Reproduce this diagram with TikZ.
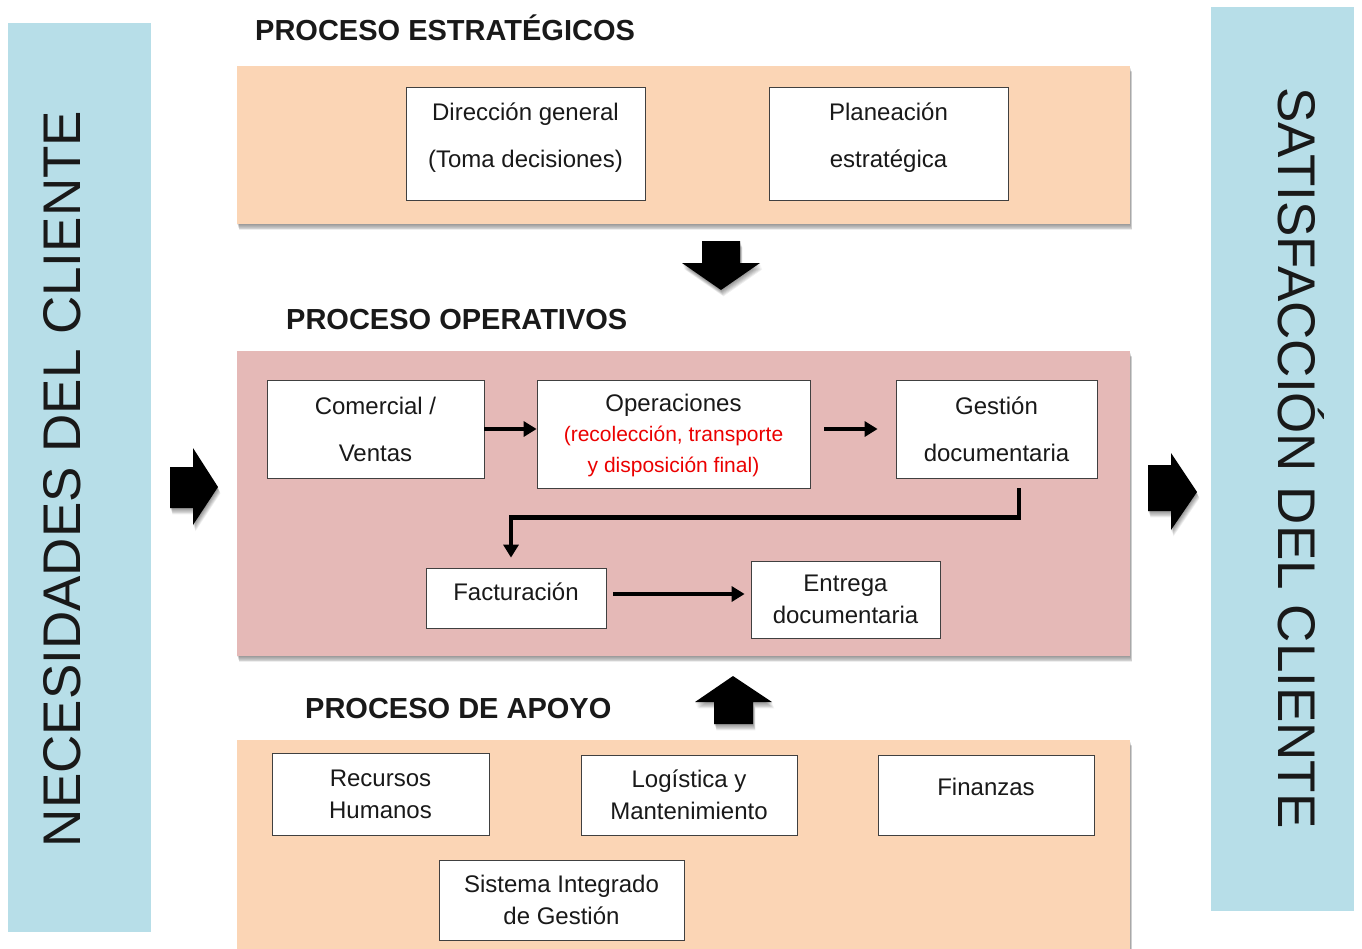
\documentclass[tikz,border=0pt]{standalone}
\usepackage{fontspec}
\setmainfont{Liberation Sans}
\usetikzlibrary{arrows.meta,calc}
\definecolor{sideblue}{RGB}{183,222,232}
\definecolor{peach}{RGB}{251,213,181}
\definecolor{rose}{RGB}{229,185,183}
\definecolor{opred}{RGB}{235,0,0}
\tikzset{
  shadowlayer/.style={fill=black, fill opacity=0.065},
  procbox/.style={draw=black!75, line width=0.8pt, fill=white, align=center, inner sep=0pt, text=black!90,
                  font=\fontsize{24}{32}\selectfont},
  widelines/.style={font=\fontsize{24}{47}\selectfont},
  titletext/.style={font=\bfseries\fontsize{29}{34}\selectfont, anchor=base west, text=black!90, inner sep=0pt},
  sidetext/.style={font=\fontsize{53}{60}\selectfont, inner sep=0pt, text=black!90},
  flow/.style={line width=4.5pt, miter limit=10, -{Triangle[length=13pt,width=15pt]}},
}
% outlines of the panels and of the block arrows
\newcommand{\panelStrat}{(237,66) rectangle (1130,224)}
\newcommand{\panelOper}{(237,351) rectangle (1130,656)}
\newcommand{\panelSupport}{(237,740) rectangle (1130,960)}
\newcommand{\arrowDown}{(702,241) -- (740,241) -- (740,263) -- (760,263) -- (721,290) -- (682,263) -- (702,263) -- cycle}
\newcommand{\arrowUp}{(714,724) -- (753,724) -- (753,702) -- (772,702) -- (733,676) -- (695,702) -- (714,702) -- cycle}
\newcommand{\arrowIn}{(170,467) -- (193,467) -- (193,448) -- (218,487) -- (193,525) -- (193,508) -- (170,508) -- cycle}
\newcommand{\arrowOut}{(1148,465) -- (1171,465) -- (1171,453) -- (1197,492) -- (1171,530) -- (1171,511) -- (1148,511) -- cycle}
% soft shadow: stacked translucent copies shifted downward
\newcommand{\softshade}[1]{\foreach \k in {1,...,7}{\fill[shadowlayer, shift={(0.35*\k,0.9*\k)}] #1;}}
\begin{document}
\begin{tikzpicture}[x={(1pt,0)}, y={(0,-1pt)}]
\useasboundingbox (0,0) rectangle (1362,948);
\fill[white] (0,0) rectangle (1362,948);

% side bars
\fill[sideblue] (8,23) rectangle (151,932);
\fill[sideblue] (1211,7) rectangle (1354,911);
\node[sidetext, rotate=90] (needs) at (62,479) {NECESIDADES DEL CLIENTE};
\node[sidetext, rotate=-90] (satis) at (1301,458) {SATISFACCIÓN DEL CLIENTE};

% process panels
\softshade{\panelStrat}
\softshade{\panelOper}
\softshade{\panelSupport}
\fill[peach] \panelStrat;
\fill[rose] \panelOper;
\fill[peach] \panelSupport;

% titles
\node[titletext] (tstrat) at (255,40) {PROCESO ESTRATÉGICOS};
\node[titletext] (toper) at (286,329) {PROCESO OPERATIVOS};
\node[titletext] (tapoyo) at (305,718) {PROCESO DE APOYO};

% strategic processes
\node[procbox, widelines, minimum width=239, minimum height=113, text depth=16pt] (dir) at (525.5,143.5)
  {Dirección general\\(Toma decisiones)};
\node[procbox, widelines, minimum width=239, minimum height=113, text depth=16pt] (plan) at (888.5,143.5)
  {Planeación\\estratégica};

% operative processes
\node[procbox, widelines, minimum width=217, minimum height=98] (com) at (375.5,429) {Comercial /\\Ventas};
\node[procbox, minimum width=273, minimum height=108, font=\fontsize{21}{30.5}\selectfont, text depth=2pt] (ope) at (673.5,434)
  {{\fontsize{24}{30}\selectfont Operaciones}\\{\color{opred}(recolección, transporte}\\{\color{opred}y disposición final)}};
\node[procbox, widelines, minimum width=201, minimum height=98] (gest) at (996.5,429) {Gestión\\documentaria};
\node[procbox, minimum width=180, minimum height=60, text depth=12pt] (fact) at (516,598) {Facturación};
\node[procbox, minimum width=189, minimum height=77] (entr) at (845.5,599.5) {Entrega\\documentaria};

% support processes
\node[procbox, minimum width=217, minimum height=82] (rrhh) at (380.5,794) {Recursos\\Humanos};
\node[procbox, minimum width=216, minimum height=80] (logi) at (689,795) {Logística y\\Mantenimiento};
\node[procbox, minimum width=216, minimum height=80, text depth=16pt] (fin) at (986,795) {Finanzas};
\node[procbox, minimum width=245, minimum height=80] (sig) at (561.5,900) {Sistema Integrado\\de Gestión};

% flow inside the operative panel
\draw[flow] (com.east) -- (com.east -| ope.west);
\draw[flow] ([xshift=14pt]ope.east |- com.east) -- ([xshift=-18pt]gest.west);
\draw[flow] ($(gest.south)+(22.5,10)$) -- ++(0,29) -| ($(fact.north)+(-5,-10)$);
\draw[flow] ([xshift=7pt,yshift=4pt]fact.east) -- ([xshift=-6pt,yshift=4pt]fact.east -| entr.west);

% block arrows between the panels and the side bars
\softshade{\arrowDown}
\softshade{\arrowUp}
\softshade{\arrowIn}
\softshade{\arrowOut}
\fill[black] \arrowDown;
\fill[black] \arrowUp;
\fill[black] \arrowIn;
\fill[black] \arrowOut;
\end{tikzpicture}
\end{document}
